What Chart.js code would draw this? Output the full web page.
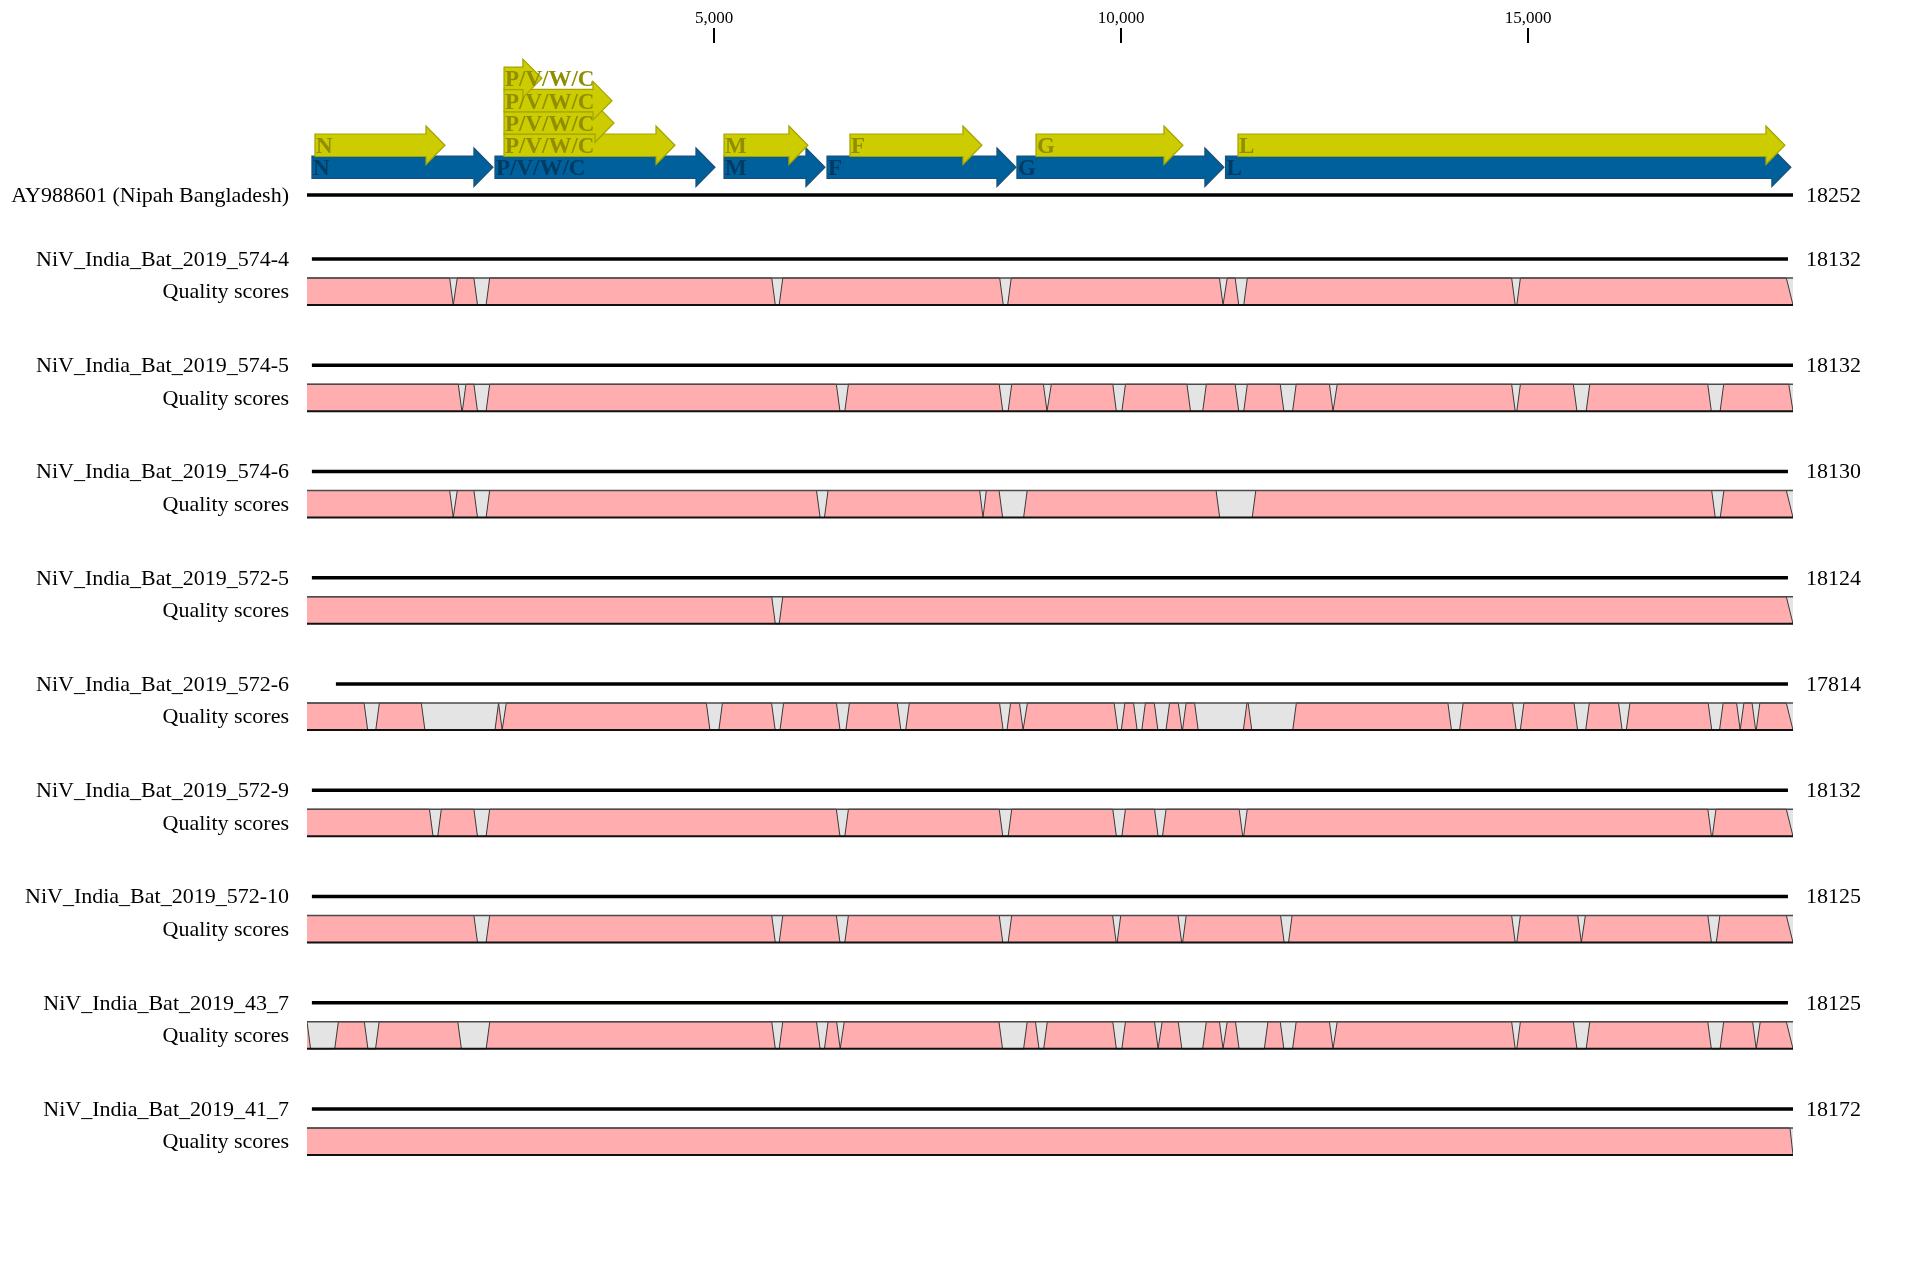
<!DOCTYPE html>
<html>
<head>
<meta charset="utf-8">
<style>
  html, body { margin: 0; padding: 0; background: #ffffff; }
  #wrap { width: 1910px; height: 1272px; }
</style>
<script src="https://cdn.jsdelivr.net/npm/chart.js@4.4.1/dist/chart.umd.min.js"></script>
</head>
<body>
<div id="wrap"><canvas id="c" width="1910" height="1272"></canvas></div>
<script>
// ---------------- DATA ----------------
const GENOME_LENGTH = 18252;
const axisTicks = [5000, 10000, 15000];

const referenceName = 'AY988601 (Nipah Bangladesh)';
const referenceLength = 18252;

// genes (blue track)
const geneNames  = ['N', 'P/V/W/C', 'M', 'F', 'G', 'L'];
const geneStarts = [61, 2309, 5122, 6387, 8720, 11282];
const geneEnds   = [2284, 5011, 6362, 8708, 11262, 18226];

// CDS (yellow track)
const cdsNames  = ['N', 'P/V/W/C', 'P/V/W/C', 'P/V/W/C', 'P/V/W/C', 'M', 'F', 'G', 'L'];
const cdsStarts = [98, 2420, 2420, 2420, 2420, 5122, 6669, 8954, 11435];
const cdsEnds   = [1695, 4520, 3771, 3746, 2885, 6153, 8290, 10759, 18153];

// aligned sequences
const sampleNames = [
  'NiV_India_Bat_2019_574-4',
  'NiV_India_Bat_2019_574-5',
  'NiV_India_Bat_2019_574-6',
  'NiV_India_Bat_2019_572-5',
  'NiV_India_Bat_2019_572-6',
  'NiV_India_Bat_2019_572-9',
  'NiV_India_Bat_2019_572-10',
  'NiV_India_Bat_2019_43_7',
  'NiV_India_Bat_2019_41_7'
];
const sampleLengths = [18132, 18132, 18130, 18124, 17814, 18132, 18125, 18125, 18172];
const sampleStarts  = [60, 60, 60, 60, 355, 60, 60, 60, 60];
const sampleEnds    = [18190, 18252, 18190, 18190, 18190, 18190, 18190, 18190, 18252];
const qualityEnds   = [18170, 18200, 18170, 18170, 18170, 18170, 18170, 18170, 18215];

// low-quality regions [start, end] in alignment coordinates
const lowQuality = [
  [[1752,1846],[2050,2244],[5708,5844],[8508,8650],[11207,11303],[11400,11550],[14796,14904]],
  [[1858,1952],[2050,2244],[6502,6650],[8502,8656],[9045,9143],[9897,10053],[10808,11046],[11400,11550],
   [11954,12150],[12558,12654],[14796,14904],[15554,15756],[17205,17401]],
  [[1752,1846],[2050,2244],[6258,6400],[8262,8344],[8500,8846],[11166,11654],[17253,17403]],
  [[5708,5844]],
  [[701,889],[1404,2353],[2353,2448],[4905,5103],[5706,5854],[6503,6663],[7250,7398],[8506,8642],
   [8751,8849],[9914,10046],[10152,10298],[10407,10595],[10702,10798],[10902,11545],[11560,12152],
   [14013,14201],[14807,14947],[15562,15750],[16109,16249],[17210,17394],[17559,17649],[17749,17845]],
  [[1504,1650],[2050,2244],[6502,6650],[8502,8656],[9897,10053],[10410,10552],[11449,11549],[17206,17306]],
  [[2050,2244],[5708,5844],[6502,6650],[8502,8656],[9895,9995],[10699,10799],[11958,12100],[14796,14904],
   [15608,15702],[17206,17354]],
  [[0,385],[704,886],[1852,2245],[5708,5844],[6258,6400],[6505,6599],[8499,8846],[8947,9093],[9897,10053],
   [10410,10504],[10701,11046],[11207,11303],[11404,11803],[11954,12150],[12558,12654],[14796,14904],
   [15554,15756],[17205,17401],[17756,17850]],
  []
];

// ---------------- LAYOUT / STYLE ----------------
const W = 1910, H = 1272;
const X_LEFT = 307, X_RIGHT = 1793;
const REF_LINE_Y = 195;
const FIRST_ROW_Y = 259, ROW_STEP = 106.25;
const BOX_TOP_OFF = 19, BOX_BOT_OFF = 46;
const GENE_TOP = 156, CDS_TOP = 134, LEVEL_STEP = 22.3;
const BODY_H = 22.5, HEAD_EXTRA = 8, HEAD_LEN = 19;
const SLANT_PX = 3.6;
const LABEL_X = 289, LENGTH_X = 1806;
const SERIF = '"Liberation Serif", "Times New Roman", serif';
const PINK = '#ffadaf', GREY = '#e4e4e4';
const YEL_FILL = '#cccc00', YEL_STROKE = '#a3a300', YEL_TEXT = '#8e8e00';
const BLUE_FILL = '#00609b', BLUE_STROKE = '#1b4f78', BLUE_TEXT = '#003b64';

const slantBp = SLANT_PX * GENOME_LENGTH / (X_RIGHT - X_LEFT);

// stacking levels for CDS (greedy, longest first)
const cdsOrder = cdsNames.map((_, i) => i).sort((a, b) =>
  (cdsStarts[a] - cdsStarts[b]) || ((cdsEnds[b] - cdsStarts[b]) - (cdsEnds[a] - cdsStarts[a])));
const cdsLevel = new Array(cdsNames.length).fill(0);
const levelEnds = [];
cdsOrder.forEach(i => {
  let lv = 0;
  while (levelEnds[lv] !== undefined && levelEnds[lv] > cdsStarts[i]) lv++;
  levelEnds[lv] = cdsEnds[i];
  cdsLevel[i] = lv;
});

function hline(x1, x2, yv, color, width, order) {
  return { data: [{x: x1, y: yv}, {x: x2, y: yv}], showLine: true, borderColor: color,
           borderWidth: width, pointRadius: 0, fill: false, order: order, borderCapStyle: 'butt' };
}

const datasets = [];
datasets.push(hline(0, referenceLength, REF_LINE_Y, '#000000', 3.6, 1));

sampleNames.forEach((name, i) => {
  const ly = FIRST_ROW_Y + i * ROW_STEP;
  const top = ly + BOX_TOP_OFF, bot = ly + BOX_BOT_OFF;
  datasets.push(hline(sampleStarts[i], sampleEnds[i], ly, '#000000', 3.6, 1));
  // grey background of quality track
  datasets.push({ data: [{x: 0, y: top}, {x: GENOME_LENGTH, y: top}], showLine: true,
    borderColor: 'rgba(0,0,0,0)', borderWidth: 0, backgroundColor: GREY,
    fill: {value: bot}, pointRadius: 0, order: 5 });
  // quality profile
  const pts = [{x: 0, y: top}];
  lowQuality[i].forEach(([a, b]) => {
    pts.push({x: a, y: top});
    if (b - a > 2 * slantBp) {
      pts.push({x: a + slantBp, y: bot});
      pts.push({x: b - slantBp, y: bot});
    } else {
      pts.push({x: (a + b) / 2, y: bot});
    }
    pts.push({x: b, y: top});
  });
  pts.push({x: qualityEnds[i], y: top});
  pts.push({x: GENOME_LENGTH, y: bot});
  datasets.push({ data: pts, showLine: true, borderColor: '#3a3a3a', borderWidth: 1,
    backgroundColor: PINK, fill: {value: bot}, pointRadius: 0, order: 4, borderJoinStyle: 'miter' });
  datasets.push(hline(0, GENOME_LENGTH, top, '#4a4a4a', 1.4, 2));
  datasets.push(hline(0, GENOME_LENGTH, bot, '#111111', 2, 2));
});

// ---------------- PLUGIN: annotations & text ----------------
function arrowPath(ctx, x1, x2, yt, h) {
  const len = Math.max(1, x2 - x1);
  const hl = Math.min(HEAD_LEN, len);
  const xb = x2 - hl;
  ctx.beginPath();
  ctx.moveTo(x1, yt);
  ctx.lineTo(xb, yt);
  ctx.lineTo(xb, yt - HEAD_EXTRA);
  ctx.lineTo(x2, yt + h / 2);
  ctx.lineTo(xb, yt + h + HEAD_EXTRA);
  ctx.lineTo(xb, yt + h);
  ctx.lineTo(x1, yt + h);
  ctx.closePath();
}

function drawArrow(ctx, xs, ys, start, end, topVal, fill, stroke, textColor, label) {
  const x1 = xs.getPixelForValue(start), x2 = xs.getPixelForValue(end);
  const yt = ys.getPixelForValue(topVal);
  const yb = ys.getPixelForValue(topVal + BODY_H);
  const h = yb - yt;
  arrowPath(ctx, x1, x2, yt, h);
  ctx.fillStyle = fill; ctx.fill();
  ctx.strokeStyle = stroke; ctx.lineWidth = 1.2; ctx.stroke();
  ctx.fillStyle = textColor;
  ctx.font = 'bold 23px ' + SERIF;
  ctx.textAlign = 'left'; ctx.textBaseline = 'middle';
  ctx.fillText(label, x1 + 1, yt + h / 2 + 2);
}

const tracksPlugin = {
  id: 'tracks',
  afterDatasetsDraw(chart) {
    const ctx = chart.ctx;
    const xs = chart.scales.x, ys = chart.scales.y;
    ctx.save();
    // ruler ticks
    ctx.strokeStyle = '#000'; ctx.lineWidth = 2;
    ctx.fillStyle = '#000'; ctx.font = '17px ' + SERIF;
    ctx.textAlign = 'center'; ctx.textBaseline = 'middle';
    axisTicks.forEach(v => {
      const px = Math.round(xs.getPixelForValue(v));
      ctx.beginPath();
      ctx.moveTo(px, ys.getPixelForValue(28));
      ctx.lineTo(px, ys.getPixelForValue(43));
      ctx.stroke();
      ctx.fillText(v.toLocaleString('en-US'), px, ys.getPixelForValue(18.5));
    });
    // gene track (blue)
    geneNames.forEach((g, i) => drawArrow(ctx, xs, ys, geneStarts[i], geneEnds[i], GENE_TOP,
      BLUE_FILL, BLUE_STROKE, BLUE_TEXT, g));
    // CDS track (yellow), lowest level first
    const idx = cdsNames.map((_, i) => i).sort((a, b) => cdsLevel[a] - cdsLevel[b]);
    idx.forEach(i => drawArrow(ctx, xs, ys, cdsStarts[i], cdsEnds[i], CDS_TOP - cdsLevel[i] * LEVEL_STEP,
      YEL_FILL, YEL_STROKE, YEL_TEXT, cdsNames[i]));
    // labels
    ctx.font = '22px ' + SERIF;
    ctx.fillStyle = '#000';
    ctx.textBaseline = 'middle';
    ctx.textAlign = 'right';
    ctx.fillText(referenceName, LABEL_X, ys.getPixelForValue(REF_LINE_Y + 1));
    ctx.textAlign = 'left';
    ctx.fillText(String(referenceLength), LENGTH_X, ys.getPixelForValue(REF_LINE_Y + 1));
    sampleNames.forEach((name, i) => {
      const ly = FIRST_ROW_Y + i * ROW_STEP;
      const qy = ly + (BOX_TOP_OFF + BOX_BOT_OFF) / 2;
      ctx.textAlign = 'right';
      ctx.fillText(name, LABEL_X, ys.getPixelForValue(ly + 1));
      ctx.fillText('Quality scores', LABEL_X, ys.getPixelForValue(qy + 1));
      ctx.textAlign = 'left';
      ctx.fillText(String(sampleLengths[i]), LENGTH_X, ys.getPixelForValue(ly + 1));
    });
    ctx.restore();
  }
};

new Chart(document.getElementById('c'), {
  type: 'scatter',
  data: { datasets: datasets },
  options: {
    responsive: false,
    animation: false,
    devicePixelRatio: 1,
    layout: { padding: { left: X_LEFT, right: W - X_RIGHT, top: 0, bottom: 0 } },
    scales: {
      x: { type: 'linear', min: 0, max: GENOME_LENGTH, display: false },
      y: { type: 'linear', min: 0, max: H, reverse: true, display: false }
    },
    elements: { line: { tension: 0 }, point: { radius: 0, hoverRadius: 0 } },
    plugins: { legend: { display: false }, tooltip: { enabled: false } },
    events: []
  },
  plugins: [tracksPlugin]
});
</script>
</body>
</html>
